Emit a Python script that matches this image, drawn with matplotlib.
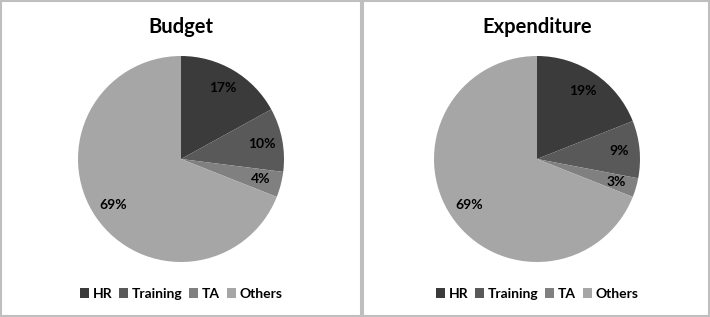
import matplotlib

matplotlib.use("Agg")
import matplotlib.pyplot as plt
from matplotlib.patches import Rectangle

categories = ["HR", "Training", "TA", "Others"]
budget = [17, 10, 4, 69]
expenditure = [19, 9, 3, 69]
titles = ["Budget", "Expenditure"]
colors = ["#3b3b3b", "#595959", "#808080", "#a6a6a6"]

plt.rcParams["font.family"] = ["Lato", "DejaVu Sans"]
plt.rcParams["font.weight"] = "bold"

W, H = 710, 317
fig = plt.figure(figsize=(W / 100, H / 100), dpi=100)

# panel frames (pixels: x0, x1)
panels = [(1, 361), (363, 709)]
for x0, x1 in panels:
    fig.patches.append(Rectangle((x0 / W, 1 / H), (x1 - x0) / W, (H - 2) / H,
                                 transform=fig.transFigure, fill=False,
                                 edgecolor="#bfbfbf", lw=1.5))

centers = [181, 537]
r = 103
cy = 159
for cx, vals, title in zip(centers, [budget, expenditure], titles):
    ax = fig.add_axes([(cx - r) / W, (H - cy - r) / H, 2 * r / W, 2 * r / H])
    wedges, _, autotexts = ax.pie(
        vals, colors=colors, startangle=90, counterclock=False,
        autopct="%d%%", pctdistance=0.8, radius=1.0,
        textprops={"fontsize": 10, "fontweight": "bold", "color": "black"},
    )
    ax.set_xlim(-1, 1)
    ax.set_ylim(-1, 1)
    ax.set_aspect("equal")
    fig.text(cx / W, 1 - 27 / H, title, ha="center", va="center",
             fontsize=14.5, fontweight="bold")
    fig.legend(wedges, categories, loc="center", ncol=4,
               bbox_to_anchor=(cx / W, 1 - 294 / H),
               frameon=False, fontsize=10, handlelength=0.65, handleheight=0.65,
               handletextpad=0.25, columnspacing=0.5)

fig.savefig("out.png", dpi=100, facecolor="white")
